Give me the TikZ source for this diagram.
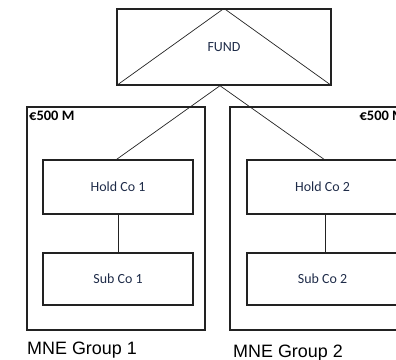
\documentclass[tikz,border=0pt]{standalone}
\usepackage{fontspec}
\setmainfont{Carlito}
\newfontfamily\labelfont{Liberation Sans}
\usetikzlibrary{calc}
\definecolor{entitytext}{HTML}{1E2B48}
\definecolor{rule}{HTML}{222222}
\tikzset{
  entity/.style={draw=rule, line width=1.1pt, rectangle, inner sep=0pt,
    text=entitytext, font=\fontsize{14}{16}\selectfont},
  group/.style={draw=rule, line width=1.1pt, rectangle, inner sep=0pt,
    minimum width=178bp, minimum height=223bp},
  link/.style={draw=rule, line width=0.7pt},
  amount/.style={font=\fontsize{14.5}{16}\selectfont\bfseries, inner sep=0pt, text=black},
  caption/.style={font=\labelfont\fontsize{18}{20}\selectfont, inner sep=0pt, text=black}
}
\begin{document}
\begin{tikzpicture}[x=1bp, y=-1bp]
  \useasboundingbox (0,0) rectangle (396,360);
  \begin{scope}
  \clip (0,0) rectangle (396,360);

  % fund with its inner triangle
  \node[entity, minimum width=214bp, minimum height=76bp] (fund) at (224,47) {FUND};
  \draw[link] (fund.south west) -- (fund.north) -- (fund.south east);

  % the two groups
  \node[group] (grp1) at (116,218.5) {};
  \node[group] (grp2) at (319,218.5) {};

  \node[entity, minimum width=150bp, minimum height=54bp] (hold1) at (118,187) {Hold Co 1};
  \node[entity, minimum width=150bp, minimum height=52bp] (sub1) at (118,279) {Sub Co 1};
  \node[entity, minimum width=156bp, minimum height=54bp] (hold2) at (325,187) {\hspace*{-5bp}Hold Co 2};
  \node[entity, minimum width=156bp, minimum height=52bp] (sub2) at (325,279) {\hspace*{-5bp}Sub Co 2};

  % ownership lines
  \coordinate (fork) at (220,85.7);
  \coordinate (top1) at (115.7,160);
  \coordinate (top2) at (325,160);
  \draw[link] (top1) -- (fork) -- (top2);
  \draw[link] (hold1.south) -- (sub1.north);
  \draw[link] (hold2.south) -- (sub2.north);

  % amounts; the right group runs past the page edge
  \node[amount, anchor=base west] (amt1) at (29,120.7) {€500 M};
  \node[amount, anchor=base east] (amt2) at (405,120.7) {€500 M};
  \end{scope}
  \node[caption, anchor=base west] (cap1) at (27,354.3) {MNE Group 1};
  \node[caption, anchor=base west] (cap2) at (233,357.7) {MNE Group 2};
\end{tikzpicture}
\end{document}
